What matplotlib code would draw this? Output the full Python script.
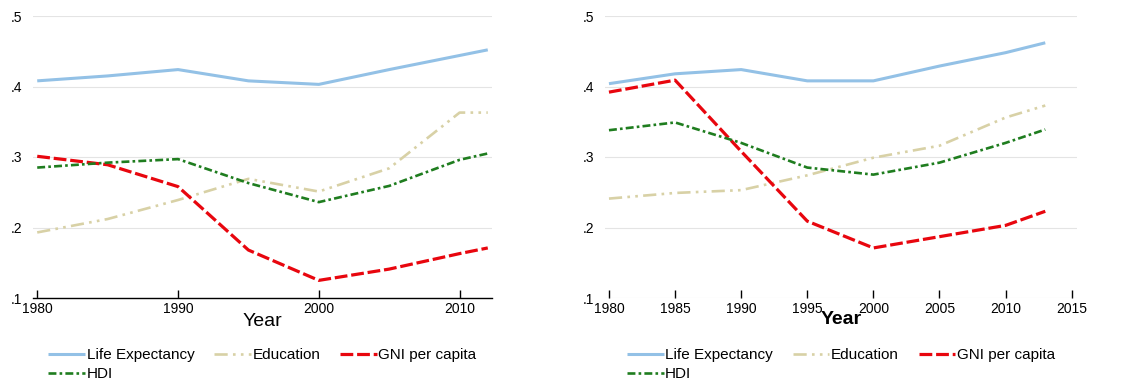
import matplotlib
matplotlib.use("Agg")
import matplotlib.pyplot as plt

plt.rcParams['font.family'] = ['Liberation Sans', 'DejaVu Sans']

# left panel
years_l = [1980, 1985, 1990, 1995, 2000, 2005, 2010, 2012]
life_l = [0.408, 0.415, 0.424, 0.408, 0.403, 0.424, 0.444, 0.452]
edu_l = [0.193, 0.212, 0.239, 0.269, 0.251, 0.284, 0.363, 0.363]
gni_l = [0.301, 0.289, 0.258, 0.168, 0.125, 0.141, 0.163, 0.171]
hdi_l = [0.285, 0.292, 0.297, 0.263, 0.236, 0.259, 0.296, 0.305]

# right panel
years_r = [1980, 1985, 1990, 1995, 2000, 2005, 2010, 2013]
life_r = [0.404, 0.418, 0.424, 0.408, 0.408, 0.429, 0.448, 0.462]
edu_r = [0.241, 0.249, 0.253, 0.274, 0.299, 0.316, 0.356, 0.373]
gni_r = [0.392, 0.409, 0.308, 0.209, 0.171, 0.187, 0.203, 0.223]
hdi_r = [0.338, 0.349, 0.320, 0.285, 0.275, 0.292, 0.320, 0.339]

yticks = [0.1, 0.2, 0.3, 0.4, 0.5]
ylabels = ['.1', '.2', '.3', '.4', '.5']
names = ['Life Expectancy', 'Education', 'GNI per capita', 'HDI']

c_life = '#93c1e6'
c_edu = '#d8d1a6'
c_gni = '#e8060e'
c_hdi = '#1f7d1f'

fig = plt.figure(figsize=(11.45, 3.83), dpi=100)
ax1 = fig.add_axes([33/1145, 1-298/383, (492-33)/1145, (298-16)/383])
ax2 = fig.add_axes([605/1145, 1-298/383, (1077-605)/1145, (298-16)/383])


def draw(ax, yrs, life, edu, gni, hdi):
    l1, = ax.plot(yrs, life, color=c_life, lw=2.2, solid_capstyle='butt')
    l2, = ax.plot(yrs, edu, color=c_edu, lw=1.9, dashes=(5, 2, 1, 2, 1, 2))
    l3, = ax.plot(yrs, gni, color=c_gni, lw=2.3, dashes=(4, 1.2))
    l4, = ax.plot(yrs, hdi, color=c_hdi, lw=1.9, dashes=(3, 1.2, 1, 1.2))
    ax.set_ylim(0.1, 0.5)
    ax.set_yticks(yticks)
    ax.set_yticklabels(ylabels)
    ax.grid(axis='y', color='#e4e4e4', lw=0.8)
    ax.set_axisbelow(True)
    for s in ['left', 'right', 'top']:
        ax.spines[s].set_visible(False)
    ax.tick_params(axis='y', length=0, pad=8, labelsize=10)
    ax.tick_params(axis='x', direction='in', length=6, width=1, labelsize=10, pad=3)
    leg = ax.legend([l1, l4, l2, l3], [names[0], names[3], names[1], names[2]],
                    loc='upper center', bbox_to_anchor=(0.5, -0.13), ncol=3,
                    frameon=False, fontsize=11, handlelength=2.4, handletextpad=0.1,
                    columnspacing=1.3, labelspacing=0.3)
    return leg


draw(ax1, years_l, life_l, edu_l, gni_l, hdi_l)
ax1.set_xlim(1979.7, 2012.3)
ax1.set_xticks([1980, 1990, 2000, 2010])
ax1.spines['bottom'].set_linewidth(1.0)
ax1.set_xlabel('Year', fontsize=14, labelpad=-2)

draw(ax2, years_r, life_r, edu_r, gni_r, hdi_r)
ax2.set_xlim(1979.7, 2015.4)
ax2.set_xticks([1980, 1985, 1990, 1995, 2000, 2005, 2010, 2015])
ax2.spines['bottom'].set_visible(False)
ax2.set_xlabel('Year', fontsize=14, fontweight='bold', labelpad=-4)

fig.savefig('out.png', dpi=100)
